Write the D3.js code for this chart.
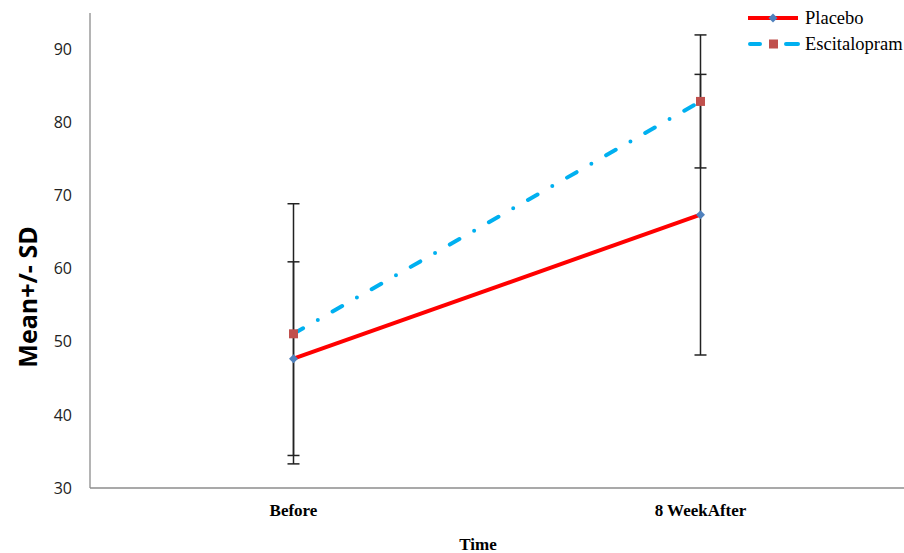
<!DOCTYPE html>
<html>
<head>
<meta charset="utf-8">
<script src="https://cdn.jsdelivr.net/npm/d3@7"></script>
<style>
  body { margin: 0; background: #fff; }
</style>
</head>
<body>
<script>
const categories = ["Before", "8 WeekAfter"];
const seriesNames = ["Placebo", "Escitalopram"];
const placeboMean = [47.7, 67.4];
const placeboSD = [13.25, 19.2];
const escitalopramMean = [51.1, 82.9];
const escitalopramSD = [17.8, 9.1];
const yTicks = [30, 40, 50, 60, 70, 80, 90];

const width = 904, height = 553;
const plotLeft = 90, plotRight = 904, plotTop = 13, plotBottom = 488;

const svg = d3.select("body").append("svg")
    .attr("width", width)
    .attr("height", height);

const x = d3.scalePoint().domain(categories).range([plotLeft, plotRight]).padding(0.5);
const y = d3.scaleLinear().domain([30, 95]).range([plotBottom, plotTop]);

// axes
svg.append("line")
    .attr("x1", plotLeft).attr("x2", plotLeft)
    .attr("y1", plotTop).attr("y2", plotBottom)
    .style("stroke", "#8c8c8c").style("stroke-width", 1.3);
svg.append("line")
    .attr("x1", plotLeft).attr("x2", plotRight)
    .attr("y1", plotBottom).attr("y2", plotBottom)
    .style("stroke", "#8c8c8c").style("stroke-width", 1.3);

svg.selectAll(".ytick")
    .data(yTicks)
    .enter().append("text")
    .attr("class", "ytick")
    .attr("x", 72)
    .attr("y", d => y(d))
    .attr("dy", "0.35em")
    .attr("text-anchor", "end")
    .style("font-family", "'Open Sans', sans-serif")
    .style("font-size", "16px")
    .style("fill", "#222")
    .text(d => d);

svg.selectAll(".xtick")
    .data(categories)
    .enter().append("text")
    .attr("class", "xtick")
    .attr("x", d => x(d))
    .attr("y", 516)
    .attr("text-anchor", "middle")
    .style("font-family", "'Liberation Serif', serif")
    .style("font-weight", "bold")
    .style("font-size", "17px")
    .text(d => d);

svg.append("text")
    .attr("x", 478)
    .attr("y", 550)
    .attr("text-anchor", "middle")
    .style("font-family", "'Liberation Serif', serif")
    .style("font-weight", "bold")
    .style("font-size", "17px")
    .text("Time");

svg.append("text")
    .attr("transform", "translate(37, 297) rotate(-90)")
    .attr("text-anchor", "middle")
    .style("font-family", "'Open Sans', sans-serif")
    .style("font-weight", "bold")
    .style("font-size", "25px")
    .text("Mean+/- SD");

// error bars
const series = [
    { name: seriesNames[0], mean: placeboMean, sd: placeboSD },
    { name: seriesNames[1], mean: escitalopramMean, sd: escitalopramSD }
];

series.forEach(s => {
    const pts = categories.map((c, i) => ({ c: c, m: s.mean[i], sd: s.sd[i] }));
    const g = svg.append("g");
    g.selectAll(".eb").data(pts).enter().append("line")
        .attr("x1", d => x(d.c)).attr("x2", d => x(d.c))
        .attr("y1", d => y(d.m - d.sd)).attr("y2", d => y(d.m + d.sd))
        .style("stroke", "#222").style("stroke-width", 1.5);
    [-1, 1].forEach(k => {
        g.selectAll(".cap" + (k + 1)).data(pts).enter().append("line")
            .attr("x1", d => x(d.c) - 6).attr("x2", d => x(d.c) + 6)
            .attr("y1", d => y(d.m + k * d.sd)).attr("y2", d => y(d.m + k * d.sd))
            .style("stroke", "#222").style("stroke-width", 1.5);
    });
});

const line = d3.line().x((d, i) => x(categories[i])).y(d => y(d));

svg.append("path")
    .datum(placeboMean)
    .attr("d", line)
    .style("fill", "none")
    .style("stroke", "#ff0000")
    .style("stroke-width", 4);

svg.append("path")
    .datum(escitalopramMean)
    .attr("d", line)
    .style("fill", "none")
    .style("stroke", "#00b0f0")
    .style("stroke-width", 4)
    .style("stroke-linecap", "round")
    .style("stroke-dasharray", "11,17,0,17");

svg.selectAll(".pmark").data(placeboMean).enter().append("path")
    .attr("d", d3.symbol().type(d3.symbolSquare).size(40))
    .attr("transform", (d, i) => `translate(${x(categories[i])},${y(d)}) rotate(45)`)
    .style("fill", "#4f81bd");

svg.selectAll(".emark").data(escitalopramMean).enter().append("rect")
    .attr("x", (d, i) => x(categories[i]) - 4.5)
    .attr("y", d => y(d) - 4.5)
    .attr("width", 9).attr("height", 9)
    .style("fill", "#c0504d");

// legend
const legend = svg.append("g");
legend.append("line")
    .attr("x1", 748).attr("x2", 798).attr("y1", 18).attr("y2", 18)
    .style("stroke", "#ff0000").style("stroke-width", 4);
legend.append("path")
    .attr("d", d3.symbol().type(d3.symbolSquare).size(40))
    .attr("transform", "translate(773,18) rotate(45)")
    .style("fill", "#4f81bd");
legend.append("line")
    .attr("x1", 750).attr("x2", 798).attr("y1", 44).attr("y2", 44)
    .style("stroke", "#00b0f0").style("stroke-width", 4)
    .style("stroke-linecap", "round")
    .style("stroke-dasharray", "10,13,0,13,20");
legend.append("rect")
    .attr("x", 769).attr("y", 39.5).attr("width", 9).attr("height", 9)
    .style("fill", "#c0504d");
legend.selectAll(".ltext").data(seriesNames).enter().append("text")
    .attr("x", 805)
    .attr("y", (d, i) => 18 + i * 26)
    .attr("dy", "0.35em")
    .style("font-family", "'Liberation Serif', serif")
    .style("font-size", "18.5px")
    .text(d => d);
</script>
</body>
</html>
